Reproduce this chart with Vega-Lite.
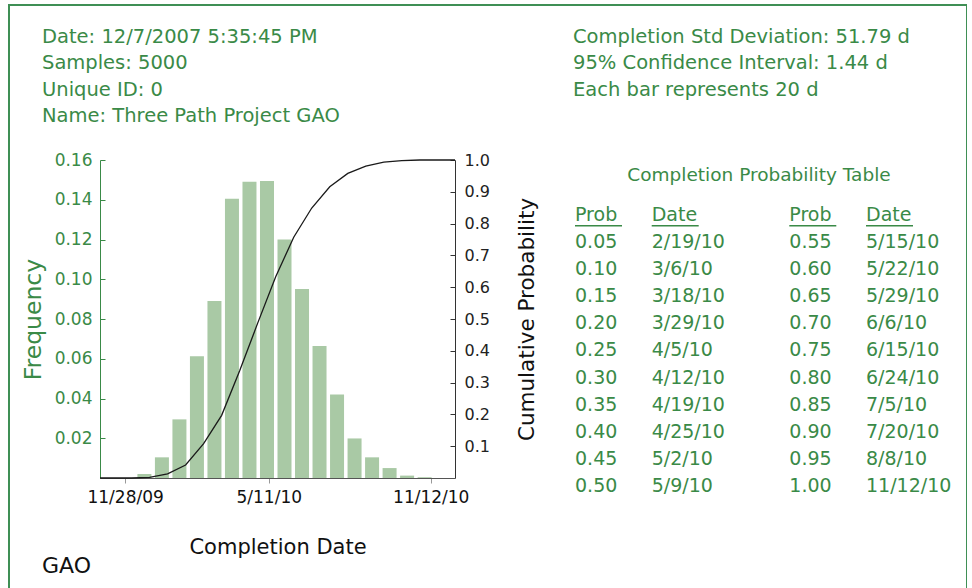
{
  "$schema": "https://vega.github.io/schema/vega-lite/v6.json",
  "autosize": {"type": "none"},
  "padding": {"left": 9, "top": 5, "right": 0, "bottom": 0},
  "width": 958,
  "height": 620,
  "background": "white",
  "config": {
    "view": {"stroke": "#3f8f55", "strokeWidth": 2},
    "font": "DejaVu Sans",
    "axis": {"grid": false, "labelFont": "DejaVu Sans", "titleFont": "DejaVu Sans", "titleFontWeight": "normal", "labelFlush": false, "labelOverlap": false}
  },
  "datasets": {
    "bars": [
      {"date": "2009-12-20", "freq": 0.002},
      {"date": "2010-01-09", "freq": 0.0104},
      {"date": "2010-01-29", "freq": 0.0295},
      {"date": "2010-02-18", "freq": 0.0613},
      {"date": "2010-03-10", "freq": 0.089},
      {"date": "2010-03-30", "freq": 0.1405},
      {"date": "2010-04-19", "freq": 0.149},
      {"date": "2010-05-09", "freq": 0.1494},
      {"date": "2010-05-29", "freq": 0.12},
      {"date": "2010-06-18", "freq": 0.0951},
      {"date": "2010-07-08", "freq": 0.0664},
      {"date": "2010-07-28", "freq": 0.042},
      {"date": "2010-08-17", "freq": 0.0199},
      {"date": "2010-09-06", "freq": 0.0104},
      {"date": "2010-09-26", "freq": 0.005},
      {"date": "2010-10-16", "freq": 0.0012},
      {"date": "2010-11-05", "freq": 0.0004}
    ],
    "cum": [
      {"date": "2009-11-05", "cum": 0},
      {"date": "2009-12-10", "cum": 0},
      {"date": "2009-12-30", "cum": 0.002},
      {"date": "2010-01-19", "cum": 0.013},
      {"date": "2010-02-08", "cum": 0.041},
      {"date": "2010-02-28", "cum": 0.108},
      {"date": "2010-03-20", "cum": 0.197},
      {"date": "2010-04-09", "cum": 0.337},
      {"date": "2010-04-29", "cum": 0.487},
      {"date": "2010-05-19", "cum": 0.633},
      {"date": "2010-06-08", "cum": 0.757},
      {"date": "2010-06-28", "cum": 0.849},
      {"date": "2010-07-18", "cum": 0.916},
      {"date": "2010-08-07", "cum": 0.958},
      {"date": "2010-08-27", "cum": 0.981},
      {"date": "2010-09-16", "cum": 0.993},
      {"date": "2010-10-06", "cum": 0.998},
      {"date": "2010-10-26", "cum": 1.0},
      {"date": "2010-12-04", "cum": 1.0}
    ],
    "info": [
      {"side": "left", "line": 0, "kind": "info", "text": "Date: 12/7/2007 5:35:45 PM"},
      {"side": "left", "line": 1, "kind": "info", "text": "Samples: 5000"},
      {"side": "left", "line": 2, "kind": "info", "text": "Unique ID: 0"},
      {"side": "left", "line": 3, "kind": "info", "text": "Name: Three Path Project GAO"},
      {"side": "right", "line": 0, "kind": "info", "text": "Completion Std Deviation: 51.79 d"},
      {"side": "right", "line": 1, "kind": "info", "text": "95% Confidence Interval: 1.44 d"},
      {"side": "right", "line": 2, "kind": "info", "text": "Each bar represents 20 d"},
      {"side": "left", "line": 20, "kind": "footer", "text": "GAO"}
    ],
    "table": [
      {"group": 1, "col": "prob", "row": -1, "text": "Prob"},
      {"group": 1, "col": "date", "row": -1, "text": "Date"},
      {"group": 1, "col": "prob", "row": 0, "text": "0.05"},
      {"group": 1, "col": "date", "row": 0, "text": "2/19/10"},
      {"group": 1, "col": "prob", "row": 1, "text": "0.10"},
      {"group": 1, "col": "date", "row": 1, "text": "3/6/10"},
      {"group": 1, "col": "prob", "row": 2, "text": "0.15"},
      {"group": 1, "col": "date", "row": 2, "text": "3/18/10"},
      {"group": 1, "col": "prob", "row": 3, "text": "0.20"},
      {"group": 1, "col": "date", "row": 3, "text": "3/29/10"},
      {"group": 1, "col": "prob", "row": 4, "text": "0.25"},
      {"group": 1, "col": "date", "row": 4, "text": "4/5/10"},
      {"group": 1, "col": "prob", "row": 5, "text": "0.30"},
      {"group": 1, "col": "date", "row": 5, "text": "4/12/10"},
      {"group": 1, "col": "prob", "row": 6, "text": "0.35"},
      {"group": 1, "col": "date", "row": 6, "text": "4/19/10"},
      {"group": 1, "col": "prob", "row": 7, "text": "0.40"},
      {"group": 1, "col": "date", "row": 7, "text": "4/25/10"},
      {"group": 1, "col": "prob", "row": 8, "text": "0.45"},
      {"group": 1, "col": "date", "row": 8, "text": "5/2/10"},
      {"group": 1, "col": "prob", "row": 9, "text": "0.50"},
      {"group": 1, "col": "date", "row": 9, "text": "5/9/10"},
      {"group": 2, "col": "prob", "row": -1, "text": "Prob"},
      {"group": 2, "col": "date", "row": -1, "text": "Date"},
      {"group": 2, "col": "prob", "row": 0, "text": "0.55"},
      {"group": 2, "col": "date", "row": 0, "text": "5/15/10"},
      {"group": 2, "col": "prob", "row": 1, "text": "0.60"},
      {"group": 2, "col": "date", "row": 1, "text": "5/22/10"},
      {"group": 2, "col": "prob", "row": 2, "text": "0.65"},
      {"group": 2, "col": "date", "row": 2, "text": "5/29/10"},
      {"group": 2, "col": "prob", "row": 3, "text": "0.70"},
      {"group": 2, "col": "date", "row": 3, "text": "6/6/10"},
      {"group": 2, "col": "prob", "row": 4, "text": "0.75"},
      {"group": 2, "col": "date", "row": 4, "text": "6/15/10"},
      {"group": 2, "col": "prob", "row": 5, "text": "0.80"},
      {"group": 2, "col": "date", "row": 5, "text": "6/24/10"},
      {"group": 2, "col": "prob", "row": 6, "text": "0.85"},
      {"group": 2, "col": "date", "row": 6, "text": "7/5/10"},
      {"group": 2, "col": "prob", "row": 7, "text": "0.90"},
      {"group": 2, "col": "date", "row": 7, "text": "7/20/10"},
      {"group": 2, "col": "prob", "row": 8, "text": "0.95"},
      {"group": 2, "col": "date", "row": 8, "text": "8/8/10"},
      {"group": 2, "col": "prob", "row": 9, "text": "1.00"},
      {"group": 2, "col": "date", "row": 9, "text": "11/12/10"}
    ],
    "tabletitle": [
      {"col": "title", "row": -2.5, "text": "Completion Probability Table"}
    ]
  },
  "resolve": {
    "scale": {"x": "independent", "y": "independent", "color": "independent", "size": "independent"},
    "axis": {"x": "independent", "y": "independent"}
  },
  "layer": [
    {
      "data": {"name": "bars"},
      "mark": {"type": "bar", "color": "#a9c9a5", "size": 14},
      "encoding": {
        "x": {
          "field": "date", "type": "temporal",
          "scale": {"type": "utc", "domain": [{"year": 2009, "month": 11, "date": 5, "utc": true}, {"year": 2010, "month": 12, "date": 4, "utc": true}], "range": [91, 446]},
          "axis": {
            "values": [{"year": 2009, "month": 11, "date": 28, "utc": true}, {"year": 2010, "month": 5, "date": 11, "utc": true}, {"year": 2010, "month": 11, "date": 12, "utc": true}],
            "format": "%-m/%-d/%y", "title": "Completion Date", "offset": -147,
            "domainColor": "#555555", "tickColor": "#999999", "tickSize": 5,
            "labelFontSize": 17, "labelColor": "#111111", "labelPadding": 6,
            "titleFontSize": 21, "titleColor": "#111111", "titlePadding": 31
          }
        },
        "y": {
          "field": "freq", "type": "quantitative",
          "scale": {"domain": [0, 0.16], "range": [473, 155], "nice": false, "zero": true},
          "axis": {
            "orient": "left", "offset": -91,
            "values": [0.02, 0.04, 0.06, 0.08, 0.1, 0.12, 0.14, 0.16], "format": ".2f",
            "title": "Frequency",
            "domainColor": "#3a8a47", "tickColor": "#3a8a47", "tickSize": -5, "labelPadding": 13,
            "labelColor": "#3a8a47", "labelFontSize": 17,
            "titleColor": "#3a8a47", "titleFontSize": 23.5, "titlePadding": 9
          }
        }
      }
    },
    {
      "data": {"name": "cum"},
      "mark": {"type": "line", "color": "#1a1a1a", "strokeWidth": 1.3},
      "encoding": {
        "x": {
          "field": "date", "type": "temporal",
          "scale": {"type": "utc", "domain": [{"year": 2009, "month": 11, "date": 5, "utc": true}, {"year": 2010, "month": 12, "date": 4, "utc": true}], "range": [91, 446]},
          "axis": null
        },
        "y": {
          "field": "cum", "type": "quantitative",
          "scale": {"domain": [0, 1], "range": [473, 155], "nice": false, "zero": true},
          "axis": {
            "orient": "right", "offset": -512,
            "values": [0.1, 0.2, 0.3, 0.4, 0.5, 0.6, 0.7, 0.8, 0.9, 1.0], "format": ".1f",
            "title": "Cumulative Probability",
            "domainColor": "#333333", "tickColor": "#333333", "tickSize": -5, "labelPadding": 14,
            "labelColor": "#222222", "labelFontSize": 16,
            "titleColor": "#111111", "titleFontSize": 21.5, "titleAngle": 270, "titleBaseline": "top", "titlePadding": 27
          }
        }
      }
    },
    {
      "data": {"name": "info"},
      "mark": {"type": "text", "align": "left", "baseline": "alphabetic", "font": "DejaVu Sans"},
      "encoding": {
        "x": {"field": "side", "type": "nominal", "scale": {"type": "point", "domain": ["left", "right"], "range": [33, 564], "padding": 0}, "axis": null},
        "y": {"field": "line", "type": "quantitative", "scale": {"domain": [0, 20], "range": [37.7, 568.3], "nice": false, "zero": false}, "axis": null},
        "text": {"field": "text"},
        "color": {"field": "kind", "type": "nominal", "scale": {"domain": ["info", "footer"], "range": ["#3a8a47", "#111111"]}, "legend": null},
        "size": {"field": "kind", "type": "nominal", "scale": {"domain": ["info", "footer"], "range": [19.5, 22]}, "legend": null}
      }
    },
    {
      "data": {"name": "tabletitle"},
      "mark": {"type": "text", "align": "center", "baseline": "alphabetic", "fontSize": 18.5, "font": "DejaVu Sans", "color": "#3a8a47"},
      "encoding": {
        "x": {"field": "col", "type": "nominal", "scale": {"type": "point", "domain": ["title"], "range": [750, 750], "padding": 0}, "axis": null},
        "y": {"field": "row", "type": "quantitative", "scale": {"domain": [0, 9], "range": [243.3, 486.7], "nice": false, "zero": false}, "axis": null},
        "text": {"field": "text"}
      }
    },
    {
      "data": {"name": "table"},
      "transform": [{"filter": "datum.group == 1"}],
      "encoding": {
        "x": {"field": "col", "type": "nominal", "scale": {"type": "point", "domain": ["prob", "date"], "range": [566, 642.7], "padding": 0}, "axis": null},
        "y": {"field": "row", "type": "quantitative", "scale": {"domain": [0, 9], "range": [243.3, 486.7], "nice": false, "zero": false}, "axis": null}
      },
      "layer": [
        {
          "mark": {"type": "text", "align": "left", "baseline": "alphabetic", "fontSize": 19, "font": "DejaVu Sans", "color": "#3a8a47"},
          "encoding": {"text": {"field": "text"}}
        },
        {
          "transform": [{"filter": "datum.row == -1"}],
          "mark": {"type": "rule", "color": "#3a8a47", "strokeWidth": 1.5, "x2Offset": 47, "yOffset": 4.5},
          "encoding": {"x2": {"field": "col"}}
        }
      ]
    },
    {
      "data": {"name": "table"},
      "transform": [{"filter": "datum.group == 2"}],
      "encoding": {
        "x": {"field": "col", "type": "nominal", "scale": {"type": "point", "domain": ["prob", "date"], "range": [780.3, 857], "padding": 0}, "axis": null},
        "y": {"field": "row", "type": "quantitative", "scale": {"domain": [0, 9], "range": [243.3, 486.7], "nice": false, "zero": false}, "axis": null}
      },
      "layer": [
        {
          "mark": {"type": "text", "align": "left", "baseline": "alphabetic", "fontSize": 19, "font": "DejaVu Sans", "color": "#3a8a47"},
          "encoding": {"text": {"field": "text"}}
        },
        {
          "transform": [{"filter": "datum.row == -1"}],
          "mark": {"type": "rule", "color": "#3a8a47", "strokeWidth": 1.5, "x2Offset": 47, "yOffset": 4.5},
          "encoding": {"x2": {"field": "col"}}
        }
      ]
    }
  ]
}
